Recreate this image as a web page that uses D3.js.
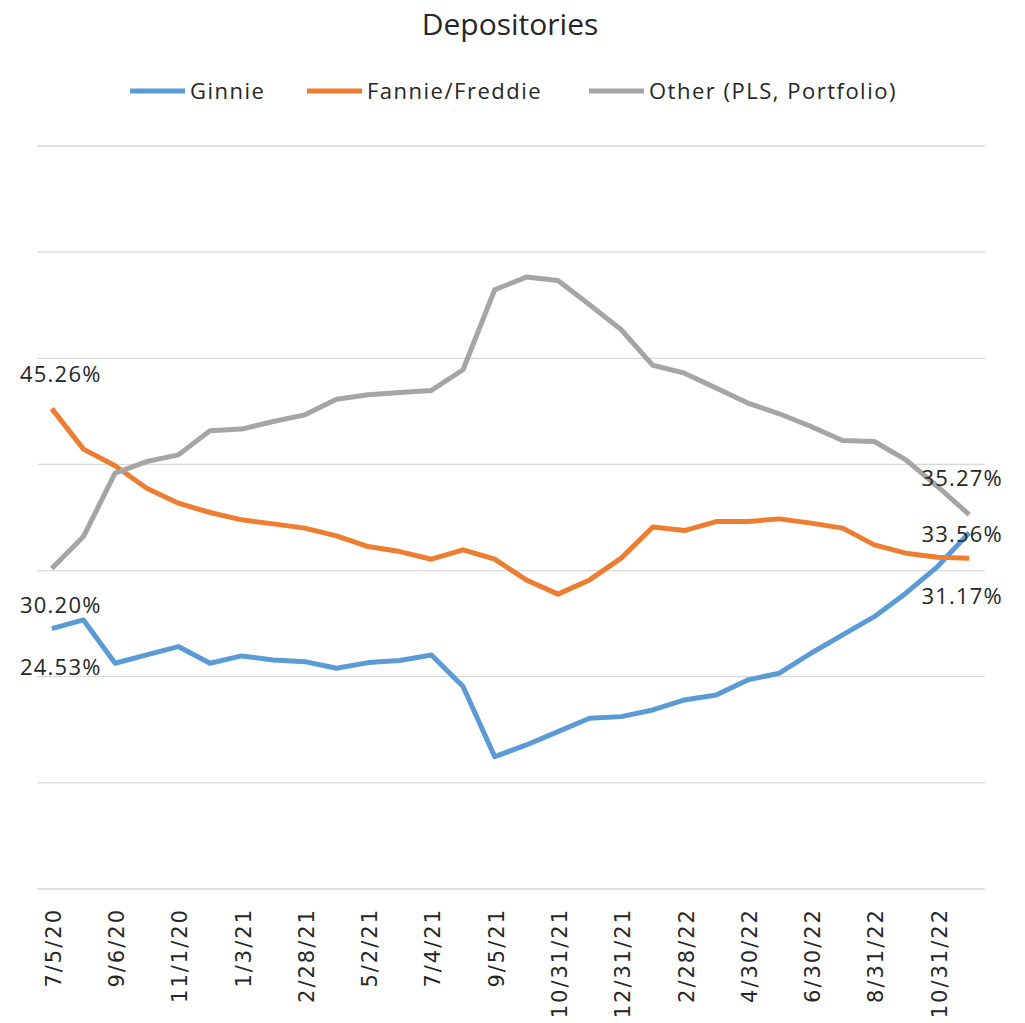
<!DOCTYPE html>
<html>
<head>
<meta charset="utf-8">
<script src="https://cdn.jsdelivr.net/npm/d3@7"></script>
<style>
body { margin: 0; background: #fff; }
svg { display: block; }
.title { font-family: "Open Sans", sans-serif; font-size: 30px; fill: #262626; }
.legend text { font-family: "Open Sans", sans-serif; font-size: 22px; letter-spacing: 1.5px; fill: #262626; }
.xaxis text { font-family: "DejaVu Sans", sans-serif; font-size: 21px; letter-spacing: 2px; fill: #262626; }
.dlabel { font-family: "Open Sans", sans-serif; font-size: 22px; letter-spacing: 1.2px; fill: #262626; }
</style>
</head>
<body>
<div id="chart"></div>
<script>
var width = 1025, height = 1023;

var dates = ["7/5/20","8/2/20","9/6/20","10/4/20","11/1/20","12/6/20","1/3/21","1/31/21","2/28/21","4/4/21",
    "5/2/21","6/6/21","7/4/21","8/1/21","9/5/21","10/3/21","10/31/21","11/30/21","12/31/21","1/31/22",
    "2/28/22","3/31/22","4/30/22","5/31/22","6/30/22","7/31/22","8/31/22","9/30/22","10/31/22","11/30/22"];

var ginnie = [24.53,25.35,21.27,22.05,22.84,21.27,21.96,21.58,21.42,20.80,
    21.33,21.52,22.05,19.07,12.47,13.57,14.83,16.09,16.24,16.87,
    17.81,18.28,19.70,20.33,22.21,23.94,25.66,27.87,30.38,33.56];
var fannie = [45.26,41.44,39.87,37.76,36.35,35.47,34.78,34.40,34.00,33.27,
    32.26,31.79,31.07,31.95,31.07,29.12,27.78,29.12,31.17,34.10,
    33.77,34.62,34.62,34.87,34.47,34.00,32.42,31.64,31.26,31.17];
var other = [30.20,33.20,39.18,40.27,40.90,43.17,43.33,44.04,44.67,46.15,
    46.56,46.78,46.97,48.92,56.46,57.65,57.33,55.04,52.69,49.34,
    48.60,47.19,45.78,44.77,43.57,42.25,42.16,40.43,37.92,35.27];

var seriesNames = ["Ginnie","Fannie/Freddie","Other (PLS, Portfolio)"];
var seriesColors = ["#5b9bd5","#ed7d31","#a5a5a5"];
var yTicks = [0,10,20,30,40,50,60,70];

var series = [ginnie, fannie, other].map(function(v, i){
    return {name: seriesNames[i], color: seriesColors[i], values: v};
});

var svg = d3.select("#chart").append("svg").attr("width", width).attr("height", height);

var x = d3.scalePoint().domain(dates).range([36, 985]).padding(0.5);
var y = d3.scaleLinear().domain([0, 70]).range([889, 146]);

// gridlines
svg.append("g").selectAll("line").data(yTicks.slice(1)).enter().append("line")
    .attr("x1", 37).attr("x2", 985)
    .attr("y1", function(d){ return y(d); }).attr("y2", function(d){ return y(d); })
    .style("stroke", "#d9d9d9").style("stroke-width", 1.3);

// x axis, every second date labelled
var xAxis = d3.axisBottom(x)
    .tickValues(dates.filter(function(d, i){ return i % 2 == 0; }))
    .tickSize(0).tickPadding(0);
var gx = svg.append("g").attr("class", "xaxis").attr("transform", "translate(0," + y(0) + ")").call(xAxis);
gx.select(".domain").attr("d", "M37,0H985").style("stroke", "#d9d9d9").style("stroke-width", 1.5);
gx.selectAll("text")
    .attr("transform", "rotate(-90)")
    .attr("x", -19).attr("y", 1).attr("dy", "0.36em")
    .style("text-anchor", "end");

// lines
var line = d3.line()
    .x(function(d, i){ return x(dates[i]); })
    .y(function(d){ return y(d); });

svg.append("g").selectAll("path").data(series).enter().append("path")
    .attr("d", function(d){ return line(d.values); })
    .style("fill", "none")
    .style("stroke", function(d){ return d.color; })
    .style("stroke-width", 5)
    .style("stroke-linejoin", "round");

// data labels at first and last point: [series index, point index, vertical offset]
var last = dates.length - 1;
var labelSpots = [[1, 0, -35], [2, 0, 37], [0, 0, 38], [2, last, -37], [0, last, 1], [1, last, 38]];
svg.append("g").selectAll("text").data(labelSpots).enter().append("text")
    .attr("class", "dlabel")
    .attr("x", function(d){ return x(dates[d[1]]) + (d[1] == 0 ? 9 : -7); })
    .attr("y", function(d){ return y(series[d[0]].values[d[1]]) + d[2]; })
    .attr("dy", "0.36em")
    .style("text-anchor", "middle")
    .text(function(d){ return series[d[0]].values[d[1]].toFixed(2) + "%"; });

// title
svg.append("text").attr("class", "title")
    .attr("x", 510).attr("y", 35).style("text-anchor", "middle")
    .text("Depositories");

// legend
var legendX = [130, 307, 589];
var legend = svg.append("g").attr("class", "legend").selectAll("g").data(series).enter().append("g")
    .attr("transform", function(d, i){ return "translate(" + legendX[i] + ",91)"; });
legend.append("line").attr("x1", 0).attr("x2", 55).attr("y1", 0).attr("y2", 0)
    .style("stroke", function(d){ return d.color; }).style("stroke-width", 5);
legend.append("text").attr("x", 60).attr("y", 0).attr("dy", "0.36em")
    .text(function(d){ return d.name; });
</script>
</body>
</html>
